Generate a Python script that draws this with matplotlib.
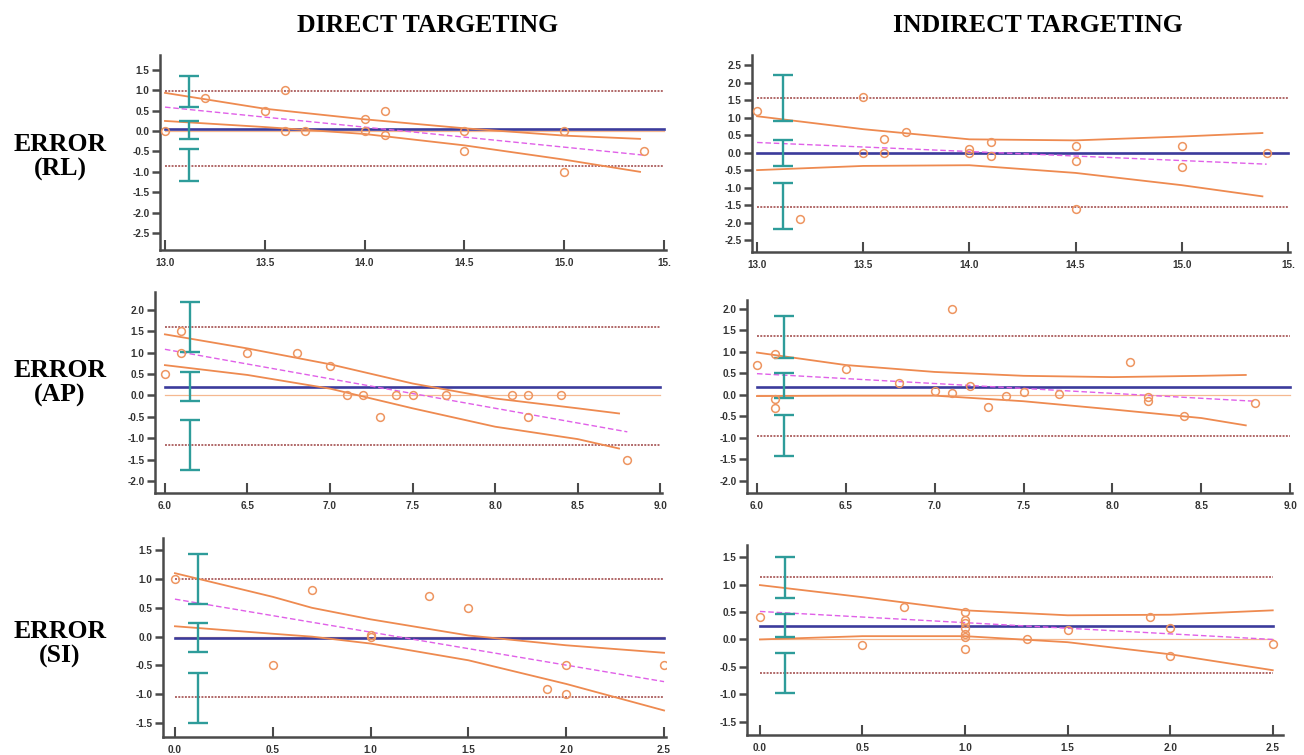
import matplotlib
matplotlib.use('Agg')
import matplotlib.pyplot as plt
import numpy as np

W, H = 1304, 755

# ---------------- Row 1 : ERROR (RL) ----------------
rl_dir_x = [13.0, 13.2, 13.5, 13.6, 13.6, 13.7, 14.0, 14.0, 14.1, 14.1, 14.5, 14.5, 15.0, 15.0, 15.4]
rl_dir_y = [0.0, 0.82, 0.5, 1.0, 0.0, 0.0, 0.3, 0.0, 0.5, -0.1, 0.0, -0.5, 0.0, -1.0, -0.5]
rl_dir_mean = 0.06
rl_dir_loa = [0.98, -0.86]
rl_dir_reg = [0.59, -0.59]
rl_dir_ci_x = [13.0, 13.5, 14.0, 14.5, 15.0, 15.38]
rl_dir_ci_hi = [0.94, 0.55, 0.29, 0.07, -0.11, -0.19]
rl_dir_ci_lo = [0.25, 0.10, -0.07, -0.35, -0.70, -1.00]
rl_dir_bars = [[0.59, 1.36], [-0.19, 0.26], [-1.23, -0.45]]

rl_ind_x = [13.0, 13.2, 13.5, 13.5, 13.6, 13.6, 13.7, 14.0, 14.0, 14.1, 14.1, 14.5, 14.5, 14.5, 15.0, 15.0, 15.4]
rl_ind_y = [1.2, -1.9, 1.6, 0.0, 0.4, 0.0, 0.6, 0.1, 0.0, 0.3, -0.1, 0.2, -0.25, -1.6, 0.2, -0.4, 0.0]
rl_ind_mean = 0.0
rl_ind_loa = [1.55, -1.54]
rl_ind_reg = [0.29, -0.33]
rl_ind_ci_x = [13.0, 13.5, 14.0, 14.5, 15.0, 15.38]
rl_ind_ci_hi = [1.04, 0.67, 0.38, 0.35, 0.46, 0.56]
rl_ind_ci_lo = [-0.50, -0.38, -0.36, -0.58, -0.93, -1.25]
rl_ind_bars = [[0.89, 2.21], [-0.38, 0.37], [-2.18, -0.88]]

# ---------------- Row 2 : ERROR (AP) ----------------
ap_dir_x = [6.0, 6.1, 6.1, 6.5, 6.8, 7.0, 7.1, 7.2, 7.3, 7.4, 7.5, 7.7, 8.1, 8.2, 8.2, 8.4, 8.8]
ap_dir_y = [0.5, 1.5, 1.0, 1.0, 1.0, 0.7, 0.0, 0.0, -0.5, 0.0, 0.0, 0.0, 0.0, 0.0, -0.5, 0.0, -1.5]
ap_dir_mean = 0.2
ap_dir_loa = [1.59, -1.16]
ap_dir_reg = [1.08, -0.85]
ap_dir_ci_x = [6.0, 6.5, 7.0, 7.5, 8.0, 8.5, 8.75]
ap_dir_ci_hi = [1.43, 1.10, 0.73, 0.28, -0.07, -0.30, -0.42]
ap_dir_ci_lo = [0.71, 0.48, 0.16, -0.30, -0.73, -1.02, -1.24]
ap_dir_bars = [[1.01, 2.18], [-0.13, 0.55], [-1.75, -0.58]]

ap_ind_x = [6.0, 6.1, 6.1, 6.1, 6.5, 6.8, 7.0, 7.1, 7.1, 7.2, 7.3, 7.4, 7.5, 7.7, 8.1, 8.2, 8.2, 8.4, 8.8]
ap_ind_y = [0.7, 0.95, -0.1, -0.3, 0.6, 0.27, 0.08, 2.0, 0.03, 0.2, -0.28, -0.03, 0.06, 0.02, 0.75, -0.05, -0.15, -0.5, -0.2]
ap_ind_mean = 0.19
ap_ind_loa = [1.36, -0.95]
ap_ind_reg = [0.49, -0.15]
ap_ind_ci_x = [6.0, 6.5, 7.0, 7.5, 8.0, 8.5, 8.75]
ap_ind_ci_hi = [0.98, 0.69, 0.53, 0.44, 0.41, 0.44, 0.46]
ap_ind_ci_lo = [-0.03, -0.02, -0.02, -0.15, -0.34, -0.54, -0.71]
ap_ind_bars = [[0.86, 1.84], [-0.08, 0.51], [-1.43, -0.46]]

# ---------------- Row 3 : ERROR (SI) ----------------
si_dir_x = [0.0, 0.5, 0.7, 1.0, 1.0, 1.3, 1.5, 1.9, 2.0, 2.0, 2.5]
si_dir_y = [1.0, -0.5, 0.8, 0.03, 0.0, 0.7, 0.5, -0.9, -0.5, -1.0, -0.5]
si_dir_mean = -0.02
si_dir_loa = [1.0, -1.04]
si_dir_reg = [0.65, -0.78]
si_dir_ci_x = [0.0, 0.5, 0.7, 1.0, 1.5, 2.0, 2.5]
si_dir_ci_hi = [1.10, 0.69, 0.50, 0.30, 0.02, -0.15, -0.28]
si_dir_ci_lo = [0.18, 0.05, 0.0, -0.12, -0.41, -0.82, -1.28]
si_dir_bars = [[0.57, 1.44], [-0.27, 0.23], [-1.49, -0.63]]

si_ind_x = [0.0, 0.5, 0.7, 1.0, 1.0, 1.0, 1.0, 1.0, 1.0, 1.0, 1.3, 1.5, 1.9, 2.0, 2.0, 2.5]
si_ind_y = [0.4, -0.1, 0.6, 0.5, 0.35, 0.3, 0.2, 0.1, 0.05, -0.17, 0.0, 0.18, 0.4, 0.2, -0.3, -0.08]
si_ind_mean = 0.25
si_ind_loa = [1.14, -0.62]
si_ind_reg = [0.51, 0.0]
si_ind_ci_x = [0.0, 0.5, 1.0, 1.5, 2.0, 2.5]
si_ind_ci_hi = [0.99, 0.77, 0.53, 0.44, 0.45, 0.53]
si_ind_ci_lo = [0.0, 0.06, 0.06, -0.05, -0.27, -0.56]
si_ind_bars = [[0.76, 1.50], [0.04, 0.47], [-0.98, -0.24]]

# tick labels
rl_xticks = [13.0, 13.5, 14.0, 14.5, 15.0, 15.5]
rl_xlabels = ['13.0', '13.5', '14.0', '14.5', '15.0', '15.']
rl_dir_yticks = [1.5, 1.0, 0.5, 0.0, -0.5, -1.0, -1.5, -2.0, -2.5]
rl_ind_yticks = [2.5, 2.0, 1.5, 1.0, 0.5, 0.0, -0.5, -1.0, -1.5, -2.0, -2.5]
ap_xticks = [6.0, 6.5, 7.0, 7.5, 8.0, 8.5, 9.0]
ap_yticks = [2.0, 1.5, 1.0, 0.5, 0.0, -0.5, -1.0, -1.5, -2.0]
si_xticks = [0.0, 0.5, 1.0, 1.5, 2.0, 2.5]
si_yticks = [1.5, 1.0, 0.5, 0.0, -0.5, -1.0, -1.5]

col_titles = ['DIRECT TARGETING', 'INDIRECT TARGETING']
row_titles = ['ERROR\n(RL)', 'ERROR\n(AP)', 'ERROR\n(SI)']

# ---------------- styling ----------------
C_PT = '#EE9560'
C_CI = '#EE8A50'
C_REG = '#E060E8'
C_MEAN = '#3B3B9C'
C_LOA = '#B06868'
C_ZERO = '#F5B890'
C_BAR = '#2E9C9A'
C_AX = '#4a4a4a'

fig = plt.figure(figsize=(W / 100, H / 100), dpi=100)
fig.patch.set_facecolor('white')


def add_axes(l, r, t, b):
    return fig.add_axes([l / W, 1 - b / H, (r - l) / W, (b - t) / H])


panels = [
    dict(box=(160, 666, 55, 250), xlim=(12.975, 15.51), ylim=(-2.92, 1.87),
         x=rl_dir_x, y=rl_dir_y, mean=rl_dir_mean, loa=rl_dir_loa, reg=rl_dir_reg,
         cix=rl_dir_ci_x, cihi=rl_dir_ci_hi, cilo=rl_dir_ci_lo, bars=rl_dir_bars, barx=13.12,
         xt=rl_xticks, xl=rl_xlabels, yt=rl_dir_yticks, span=(13.0, 15.5)),
    dict(box=(752, 1290, 55, 252), xlim=(12.976, 15.51), ylim=(-2.84, 2.79),
         x=rl_ind_x, y=rl_ind_y, mean=rl_ind_mean, loa=rl_ind_loa, reg=rl_ind_reg,
         cix=rl_ind_ci_x, cihi=rl_ind_ci_hi, cilo=rl_ind_ci_lo, bars=rl_ind_bars, barx=13.12,
         xt=rl_xticks, xl=rl_xlabels, yt=rl_ind_yticks, span=(13.0, 15.5)),
    dict(box=(155, 662, 292, 493), xlim=(5.94, 9.01), ylim=(-2.28, 2.42),
         x=ap_dir_x, y=ap_dir_y, mean=ap_dir_mean, loa=ap_dir_loa, reg=ap_dir_reg,
         cix=ap_dir_ci_x, cihi=ap_dir_ci_hi, cilo=ap_dir_ci_lo, bars=ap_dir_bars, barx=6.15,
         xt=ap_xticks, xl=['%.1f' % v for v in ap_xticks], yt=ap_yticks, span=(6.0, 9.0)),
    dict(box=(747, 1292, 300, 493), xlim=(5.944, 9.01), ylim=(-2.28, 2.2),
         x=ap_ind_x, y=ap_ind_y, mean=ap_ind_mean, loa=ap_ind_loa, reg=ap_ind_reg,
         cix=ap_ind_ci_x, cihi=ap_ind_ci_hi, cilo=ap_ind_ci_lo, bars=ap_ind_bars, barx=6.15,
         xt=ap_xticks, xl=['%.1f' % v for v in ap_xticks], yt=ap_yticks, span=(6.0, 9.0)),
    dict(box=(163, 666, 538, 737), xlim=(-0.061, 2.51), ylim=(-1.74, 1.71),
         x=si_dir_x, y=si_dir_y, mean=si_dir_mean, loa=si_dir_loa, reg=si_dir_reg,
         cix=si_dir_ci_x, cihi=si_dir_ci_hi, cilo=si_dir_ci_lo, bars=si_dir_bars, barx=0.12,
         xt=si_xticks, xl=['%.1f' % v for v in si_xticks], yt=si_yticks, span=(0.0, 2.5)),
    dict(box=(747, 1283, 545, 735), xlim=(-0.063, 2.55), ylim=(-1.74, 1.72),
         x=si_ind_x, y=si_ind_y, mean=si_ind_mean, loa=si_ind_loa, reg=si_ind_reg,
         cix=si_ind_ci_x, cihi=si_ind_ci_hi, cilo=si_ind_ci_lo, bars=si_ind_bars, barx=0.12,
         xt=si_xticks, xl=['%.1f' % v for v in si_xticks], yt=si_yticks, span=(0.0, 2.5)),
]

for p in panels:
    ax = add_axes(*p['box'])
    ax.set_xlim(*p['xlim'])
    ax.set_ylim(*p['ylim'])
    s0, s1 = p['span']
    # zero line, mean, limits of agreement
    ax.plot([s0, s1], [0, 0], color=C_ZERO, lw=0.9, zorder=1)
    ax.plot([s0, s1], [p['mean'], p['mean']], color=C_MEAN, lw=1.9, zorder=2)
    for v in p['loa']:
        ax.plot([s0, s1], [v, v], color=C_LOA, lw=1.4, ls=(0, (1, 0.7)), zorder=2)
    # regression and its confidence curves
    rx = [min(p['x']), max(p['x'])]
    ax.plot(rx, p['reg'], color=C_REG, lw=1.0, ls=(0, (4, 2)), zorder=3)
    ax.plot(p['cix'], p['cihi'], color=C_CI, lw=1.3, zorder=3)
    ax.plot(p['cix'], p['cilo'], color=C_CI, lw=1.3, zorder=3)
    # confidence-interval bars
    for lo, hi in p['bars']:
        ax.errorbar([p['barx']], [(lo + hi) / 2], yerr=[[(hi - lo) / 2], [(hi - lo) / 2]],
                    fmt='none', ecolor=C_BAR, elinewidth=1.7, capsize=7, capthick=1.7, zorder=4)
    # points
    ax.plot(p['x'], p['y'], ls='none', marker='o', ms=5.6, mfc='none', mec=C_PT, mew=1.1, zorder=5)

    for side in ['top', 'right']:
        ax.spines[side].set_visible(False)
    for side in ['left', 'bottom']:
        ax.spines[side].set_color(C_AX)
        ax.spines[side].set_linewidth(1.8)
    ax.set_xticks(p['xt'])
    ax.set_xticklabels(p['xl'])
    ax.set_yticks(p['yt'])
    ax.set_yticklabels(['%.1f' % v for v in p['yt']])
    ax.tick_params(axis='x', direction='in', length=7, width=1.5, color=C_AX, pad=6,
                   labelsize=7.2, labelcolor='#333333')
    ax.tick_params(axis='y', direction='out', length=6, width=1.8, color=C_AX, pad=1.5,
                   labelsize=7.2, labelcolor='#333333')
    for lab in ax.get_xticklabels() + ax.get_yticklabels():
        lab.set_fontweight('bold')
        lab.set_family('Liberation Sans')
    ax.patch.set_alpha(0)

# titles
serif = 'Liberation Serif'
fig.text(428 / W, 1 - 25 / H, col_titles[0], ha='center', va='center',
         fontsize=18.5, fontweight='bold', family=serif)
fig.text(1038 / W, 1 - 25 / H, col_titles[1], ha='center', va='center',
         fontsize=18.5, fontweight='bold', family=serif)
for txt, yc in zip(row_titles, [157, 383, 644]):
    fig.text(60 / W, 1 - yc / H, txt, ha='center', va='center', fontsize=18.5,
             fontweight='bold', family=serif, linespacing=1.1)

fig.savefig('out.png', dpi=100, facecolor='white')
